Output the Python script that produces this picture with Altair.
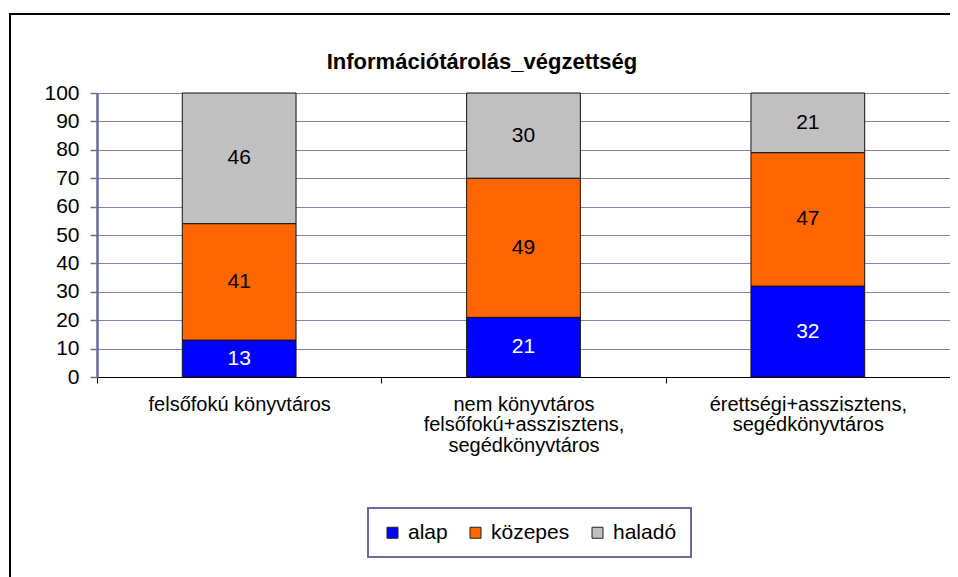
import altair as alt
import pandas as pd

title_text = "Információtárolás_végzettség"
categories = [
    "felsőfokú könyvtáros",
    "nem könyvtáros\nfelsőfokú+asszisztens,\nsegédkönyvtáros",
    "érettségi+asszisztens,\nsegédkönyvtáros",
]
series = ["alap", "közepes", "haladó"]
alap = [13, 21, 32]
kozepes = [41, 49, 47]
halado = [46, 30, 21]
series_colors = ["#0000FF", "#FF6600", "#C0C0C0"]
y_ticks = [0, 10, 20, 30, 40, 50, 60, 70, 80, 90, 100]

rows = []
for si, (s, vals) in enumerate(zip(series, [alap, kozepes, halado])):
    for c, v in zip(categories, vals):
        rows.append({"category": c, "series": s, "order": si, "value": v})
df = pd.DataFrame(rows)

FONT = "Liberation Sans"
GRID = "#8080b4"
AXIS = "#6a6a9c"
FS = 21

x_axis = alt.Axis(
    title=None, labelAngle=0, labelExpr="split(datum.label, '\\n')",
    tickBand="extent", grid=False, domainColor="black", domainWidth=1,
    tickColor="black", tickSize=6, tickWidth=1, labelFontSize=20,
    labelLineHeight=20.5, labelPadding=11, labelLimit=0,
)
y_axis = alt.Axis(
    values=y_ticks, title=None, grid=True, gridColor=GRID, gridWidth=1,
    domainColor=AXIS, domainWidth=2.5, tickColor=AXIS, tickSize=7,
    tickWidth=1.5, labelFontSize=FS, labelPadding=11, labelOverlap=False,
)
x_scale = alt.Scale(paddingInner=0, paddingOuter=0)
y_scale = alt.Scale(domain=[0, 100], nice=False)

base = alt.Chart(df).transform_stack(
    stack="value", groupby=["category"], as_=["y0", "y1"],
    sort=[alt.SortField("order", order="ascending")],
).transform_calculate(mid="(datum.y0 + datum.y1) / 2")

bars = base.mark_bar(width={"band": 0.4}, stroke="#111111", strokeWidth=1).encode(
    x=alt.X("category:N", sort=categories, scale=x_scale, axis=x_axis),
    y=alt.Y("y0:Q", scale=y_scale, axis=y_axis),
    y2="y1:Q",
    color=alt.Color(
        "series:N",
        scale=alt.Scale(domain=series, range=series_colors),
        legend=alt.Legend(
            title=None, orient="none", legendX=271, legendY=415,
            direction="horizontal", symbolType="square", symbolSize=121,
            symbolStrokeColor="#222222", symbolStrokeWidth=1,
            labelFontSize=FS, labelFont=FONT, labelOffset=5,
            columnPadding=17, padding=14, strokeColor=AXIS,
        ),
    ),
    order=alt.Order("order:Q"),
)

labels = base.mark_text(fontSize=FS, font=FONT).encode(
    x=alt.X("category:N", sort=categories, scale=x_scale, axis=x_axis),
    y=alt.Y("mid:Q", scale=y_scale, axis=y_axis),
    text="value:Q",
    color=alt.condition(alt.datum.series == "alap", alt.value("white"), alt.value("black")),
)

title = alt.Chart(alt.Data(values=[{"t": title_text}])).mark_text(
    fontSize=22, fontWeight="bold", font=FONT, align="center", baseline="alphabetic"
).encode(x=alt.value(385), y=alt.value(-24), text="t:N")

border = alt.Chart(alt.Data(values=[{"b": 1}])).mark_rect(
    filled=False, stroke="black", strokeWidth=2
).encode(x=alt.value(-87), x2=alt.value(900), y=alt.value(-79), y2=alt.value(520))

chart = alt.layer(border, bars, labels, title).properties(
    width=853, height=284,
    autosize=alt.AutoSizeParams(type="none"),
    padding={"left": 89, "top": 85, "right": 0, "bottom": 200},
    background="white",
).configure_view(stroke=GRID, strokeWidth=1).configure_axis(
    labelFont=FONT, labelColor="black"
).configure_legend(strokeWidth=2)

chart.save("out.html", embed_options={"renderer": "svg", "actions": False})
